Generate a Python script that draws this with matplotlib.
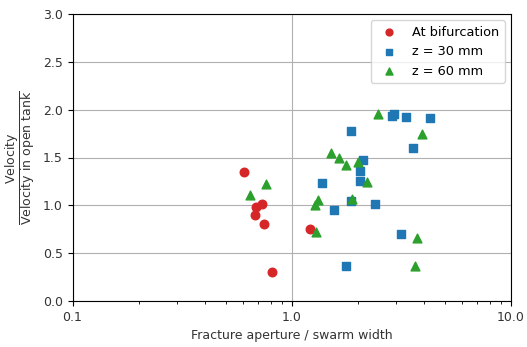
import matplotlib
matplotlib.use("Agg")
import matplotlib.pyplot as plt
from matplotlib.ticker import FixedLocator, FixedFormatter

# ratio fracture aperture / swarm width, normalised velocity
bif_x = [0.608, 0.728, 0.687, 0.678, 0.747, 1.209, 0.810]
bif_y = [1.353, 1.015, 0.983, 0.900, 0.805, 0.748, 0.306]

z30_x = [1.870, 2.853, 2.913, 3.333, 4.275, 3.586, 2.121, 2.056, 1.379, 2.053,
         1.864, 2.399, 1.563, 3.162, 1.775]
z30_y = [1.775, 1.935, 1.956, 1.928, 1.911, 1.597, 1.475, 1.360, 1.237, 1.252,
         1.043, 1.018, 0.949, 0.701, 0.369]

z60_x = [2.484, 3.930, 1.516, 1.649, 1.769, 2.013, 2.198, 0.763, 0.645, 1.315,
         1.271, 1.890, 1.284, 3.718, 3.664]
z60_y = [1.953, 1.744, 1.551, 1.496, 1.423, 1.454, 1.245, 1.221, 1.112, 1.054,
         0.999, 1.067, 0.722, 0.656, 0.366]

x_ticks = [0.1, 1.0, 10.0]
x_tick_labels = ["0.1", "1.0", "10.0"]
y_ticks = [0.0, 0.5, 1.0, 1.5, 2.0, 2.5, 3.0]

plt.rcParams["font.size"] = 9
fig = plt.figure(figsize=(5.27, 3.47), dpi=100)
W, H = 527, 347
ax = fig.add_axes([72.5 / W, (H - 301) / H, 438.5 / W, 287 / H])

ax.scatter(bif_x, bif_y, s=38, marker="o", color="#d62728", label="At bifurcation", zorder=3)
ax.scatter(z30_x, z30_y, s=36, marker="s", color="#1f77b4", label="z = 30 mm", zorder=3)
ax.scatter(z60_x, z60_y, s=40, marker="^", color="#2ca02c", label="z = 60 mm", zorder=3)

ax.set_xscale("log")
ax.set_xlim(0.1, 10.0)
ax.set_ylim(0.0, 3.0)
ax.xaxis.set_major_locator(FixedLocator(x_ticks))
ax.xaxis.set_major_formatter(FixedFormatter(x_tick_labels))
ax.set_yticks(y_ticks)
ax.grid(True, color="#b0b0b0", linewidth=0.8)
ax.set_axisbelow(True)
ax.tick_params(labelcolor="#333333")

ax.set_xlabel("Fracture aperture / swarm width", color="#333333")
ax.set_ylabel(r"$\dfrac{\mathrm{Velocity}}{\mathrm{Velocity\ in\ open\ tank}}$",
              color="#333333", fontsize=9)
ax.legend(loc="upper right", scatterpoints=1, markerscale=0.8, fontsize=9.3)

fig.savefig("out.png", dpi=100)
